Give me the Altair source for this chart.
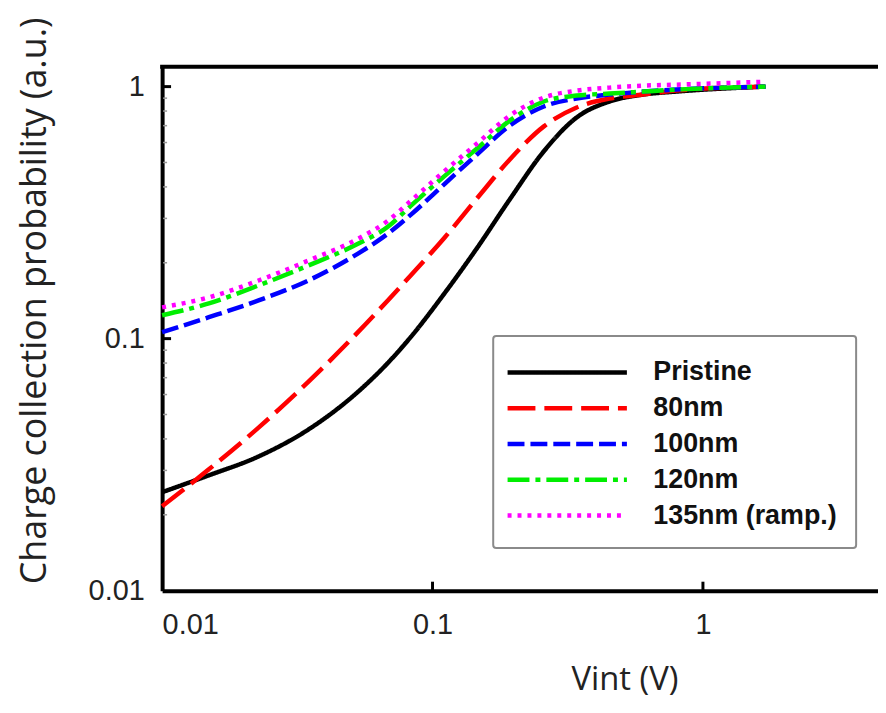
import altair as alt
import pandas as pd

# ---- data ----
series_names = ["Pristine", "80nm", "100nm", "120nm", "135nm (ramp.)"]
series_colors = ["#000000", "#ff0000", "#0000ff", "#00ee00", "#ff00ff"]
series_dashes = [[1, 0], [28, 9], [17, 6], [22, 6, 5, 6], [4, 6]]

vint = [0.0100, 0.01489, 0.02273, 0.03471, 0.05300, 0.06833, 0.08302, 0.1107,
        0.1464, 0.1935, 0.2581, 0.3412, 0.4512, 0.6016, 0.7959, 1.704]

pristine = [0.02458, 0.02868, 0.03408, 0.04356, 0.06152, 0.08006, 0.1014, 0.1512,
            0.2296, 0.3583, 0.5541, 0.7545, 0.8727, 0.9299, 0.9556, 1.0]
nm80 = [0.02164, 0.03029, 0.04434, 0.06737, 0.1061, 0.1418, 0.1780, 0.2514,
        0.3615, 0.5152, 0.6953, 0.8265, 0.8968, 0.9299, 0.9643, 1.0]
nm100 = [0.1061, 0.1216, 0.1418, 0.1701, 0.2175, 0.2607, 0.3098, 0.4106,
         0.5392, 0.7018, 0.8340, 0.8968, 0.9299, 0.9556, 0.9731, 1.0]
nm120 = [0.1238, 0.1380, 0.1626, 0.1950, 0.2380, 0.2779, 0.3362, 0.4415,
         0.5693, 0.7343, 0.8727, 0.9215, 0.9384, 0.9556, 0.9731, 1.0]
nm135 = [0.1331, 0.1458, 0.1701, 0.2040, 0.2491, 0.2934, 0.3518, 0.4622,
         0.5958, 0.7684, 0.9049, 0.9643, 0.9910, 1.009, 1.018, 1.046]

x_ticks = [0.01, 0.1, 1]
y_ticks = [0.01, 0.1, 1]
y_minor = [0.02, 0.03, 0.04, 0.05, 0.06, 0.07, 0.08, 0.09,
           0.2, 0.3, 0.4, 0.5, 0.6, 0.7, 0.8, 0.9]

all_y = [pristine, nm80, nm100, nm120, nm135]
rows = []
for name, ys in zip(series_names, all_y):
    for i, (xv, yv) in enumerate(zip(vint, ys)):
        rows.append({"series": name, "vint": xv, "ccp": yv, "idx": i})
df = pd.DataFrame(rows)

W, H = 720, 527
xscale = alt.Scale(type="log", domain=[0.01, 4.44], nice=False)
yscale = alt.Scale(type="log", domain=[0.01, 1.2], nice=False)

legend = alt.Legend(
    orient="none", legendX=333, legendY=271, title=None,
    symbolType="M-1.47,0H6.53", symbolSize=900, symbolStrokeWidth=4.5,
    labelFont="Liberation Sans", labelFontWeight="bold", labelFontSize=27,
    labelColor="#111111", labelOffset=107, labelLimit=400, padding=19, rowPadding=5,
    strokeColor="#8a8a8a", fillColor="white", cornerRadius=3,
)

color = alt.Color("series:N", scale=alt.Scale(domain=series_names, range=series_colors), legend=legend)
dash = alt.StrokeDash("series:N", scale=alt.Scale(domain=series_names, range=series_dashes), legend=legend)

x_axis = alt.Axis(
    values=x_ticks, format="~g", title="Vint (V)", grid=False, ticks=False,
    domainColor="black", domainWidth=4, labelFont="Liberation Sans",
    labelFontSize=29, labelColor="#222222", labelPadding=20,
    titleFont="Open Sans", titleFontSize=33, titleFontWeight="normal",
    titleColor="#222222", titleX=465, titleY=89, titleAlign="center",
    titleBaseline="middle")
y_axis = alt.Axis(
    values=y_ticks, format="~g", title="Charge collection probability (a.u.)",
    grid=False, ticks=False, domainColor="black", domainWidth=4,
    labelFont="Liberation Sans", labelFontSize=29, labelColor="#222222",
    labelPadding=18, titleFont="Open Sans", titleFontSize=36,
    titleFontWeight="normal", titleColor="#222222", titleX=-128, titleY=235,
    titleAngle=270, titleAlign="center", titleBaseline="middle")

layers = []
for name in series_names:
    layers.append(
        alt.Chart(df).transform_filter(alt.datum.series == name)
        .mark_line(strokeWidth=4.5, strokeCap="butt", interpolate="monotone")
        .encode(
            x=alt.X("vint:Q", scale=xscale, axis=x_axis),
            y=alt.Y("ccp:Q", scale=yscale, axis=y_axis),
            color=color,
            strokeDash=dash,
            order="idx:Q",
        )
    )

# inward tick marks and top frame line
y_major_rules = alt.Chart(pd.DataFrame({"ccp": [0.1, 1.0]})).mark_rule(
    color="black", strokeWidth=3).encode(
    y=alt.Y("ccp:Q", scale=yscale, axis=y_axis), x=alt.value(0), x2=alt.value(9))
y_minor_rules = alt.Chart(pd.DataFrame({"ccp": y_minor})).mark_rule(
    color="#9a9a9a", strokeWidth=1.5).encode(
    y=alt.Y("ccp:Q", scale=yscale, axis=y_axis), x=alt.value(1), x2=alt.value(5))
x_major_rules = alt.Chart(pd.DataFrame({"vint": [0.1, 1.0]})).mark_rule(
    color="black", strokeWidth=3).encode(
    x=alt.X("vint:Q", scale=xscale, axis=x_axis), y=alt.value(H), y2=alt.value(H - 9))
top_border = alt.Chart(pd.DataFrame({"d": [0]})).mark_rule(
    color="black", strokeWidth=4).encode(
    x=alt.value(-2), x2=alt.value(W + 10), y=alt.value(0))

chart = alt.layer(
    *layers, y_minor_rules, y_major_rules, x_major_rules, top_border
).properties(
    width=W, height=H,
    autosize=alt.AutoSizeParams(type="none"),
    padding={"left": 155, "top": 57, "right": 0, "bottom": 112},
    background="white",
).configure_view(stroke="transparent").configure_legend(strokeWidth=2)

chart.save("out.html", embed_options={"renderer": "svg", "actions": False})
